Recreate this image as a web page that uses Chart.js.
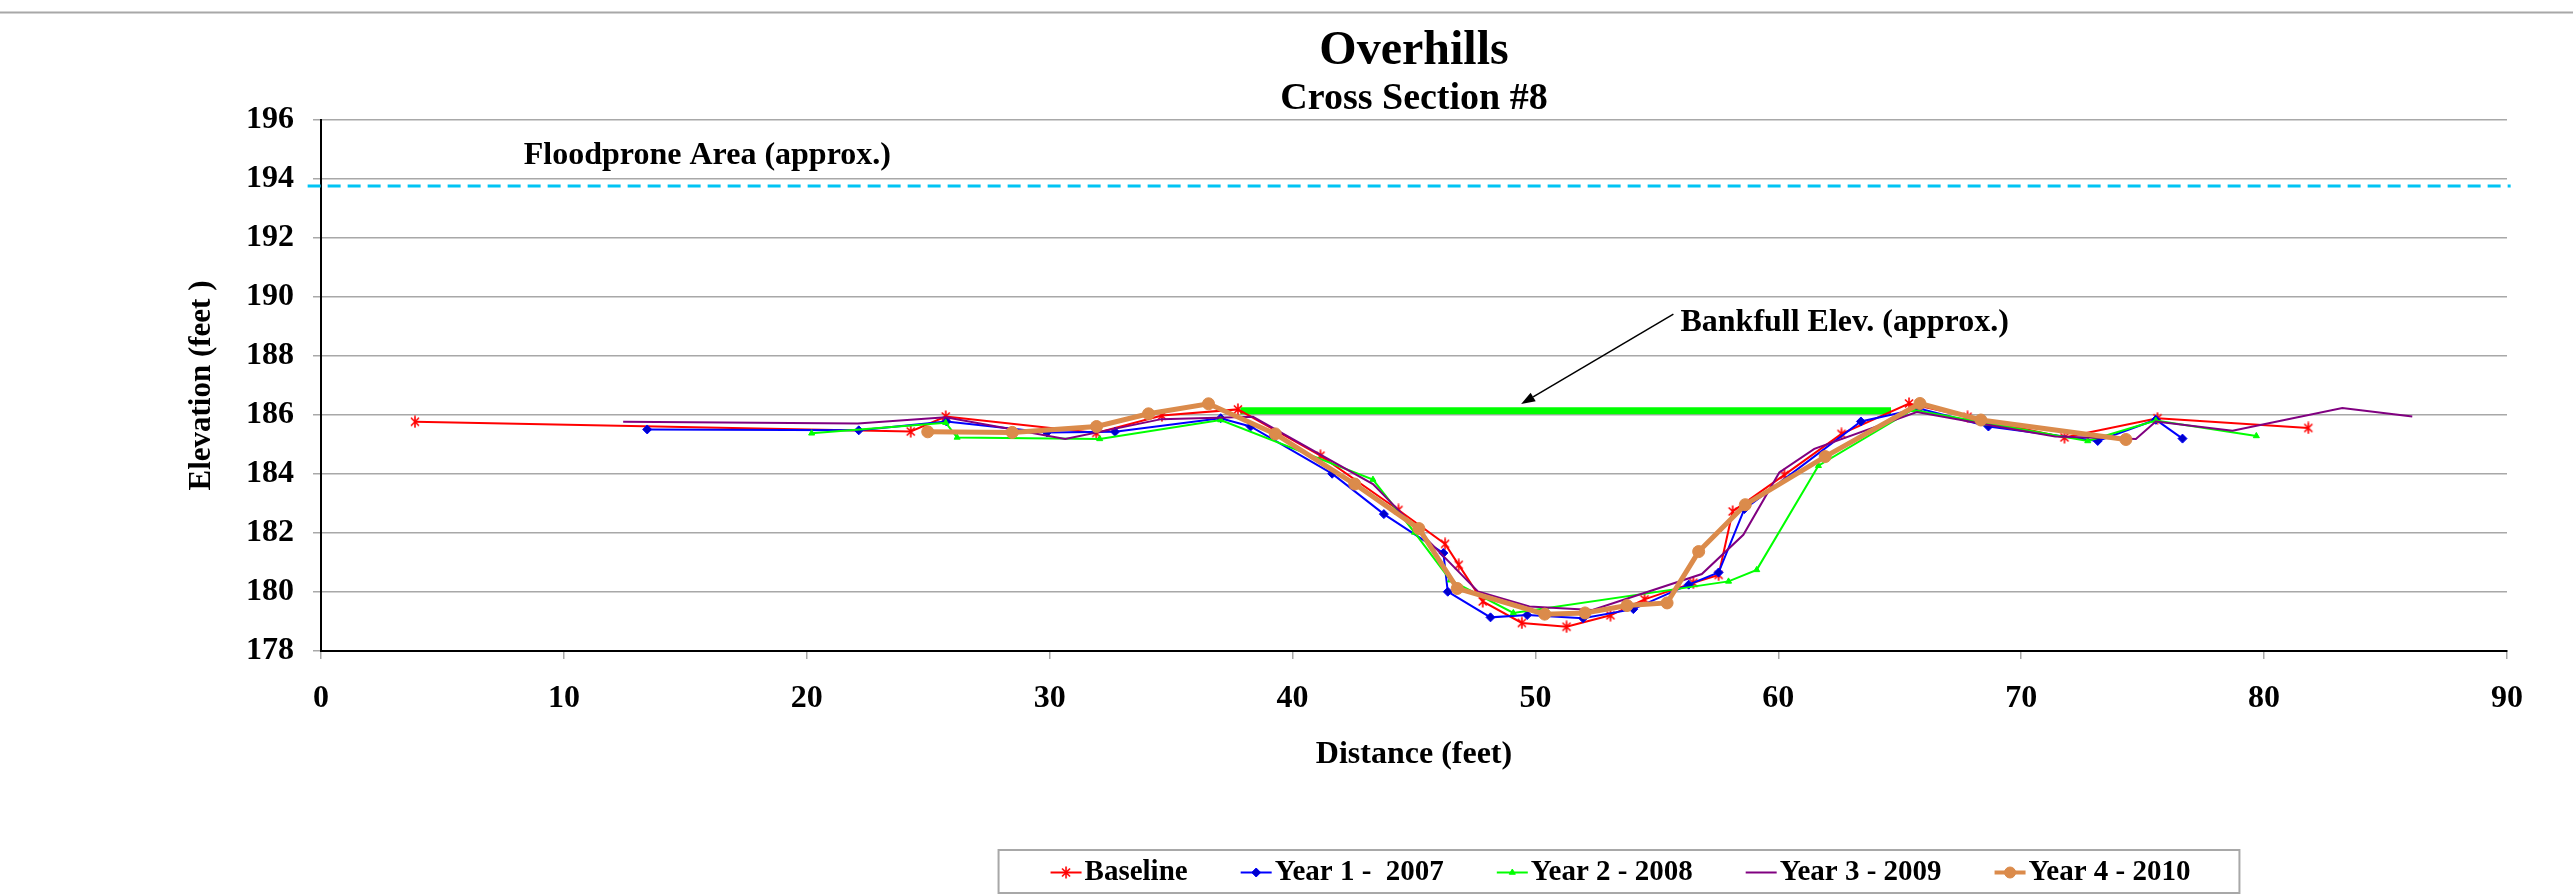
<!DOCTYPE html>
<html>
<head>
<meta charset="utf-8">
<title>Overhills Cross Section #8</title>
<script src="https://cdn.jsdelivr.net/npm/chart.js@4"></script>
<style>
  html, body { margin: 0; padding: 0; background: #ffffff; }
  canvas { display: block; }
</style>
</head>
<body>
<canvas id="xs" width="2573" height="896"></canvas>
<script>
// Survey stations (ft) and surveyed elevations (ft) for each year
const baselineX = [3.87, 24.28, 25.72, 31.92, 34.62, 37.75, 41.15, 44.36, 46.28, 46.84, 47.83, 49.44, 51.28, 53.09, 54.49, 56.5, 57.54, 58.12, 60.25, 62.6, 65.38, 67.79, 71.78, 75.61, 81.82];
const baselineY = [185.77, 185.44, 185.95, 185.39, 185.98, 186.19, 184.62, 182.78, 181.63, 180.92, 179.68, 178.95, 178.82, 179.21, 179.75, 180.31, 180.58, 182.73, 183.97, 185.36, 186.39, 185.94, 185.24, 185.89, 185.56];

const year1X = [13.43, 22.14, 25.75, 29.89, 32.69, 37.04, 38.27, 41.63, 43.76, 46.21, 46.39, 48.15, 49.66, 51.96, 54.03, 56.31, 57.54, 58.6, 63.4, 65.8, 68.65, 73.15, 75.54, 76.64];
const year1Y = [185.51, 185.48, 185.78, 185.41, 185.43, 185.89, 185.61, 184.01, 182.64, 181.32, 180.01, 179.14, 179.22, 179.11, 179.42, 180.25, 180.66, 182.81, 185.78, 186.22, 185.61, 185.12, 185.84, 185.2];

const year2X = [20.2, 25.72, 26.19, 32.06, 37.04, 43.31, 45.02, 46.5, 49.09, 57.95, 59.11, 61.65, 65.53, 68.6, 72.74, 75.54, 79.68];
const year2Y = [185.38, 185.74, 185.24, 185.19, 185.83, 183.81, 182.02, 180.4, 179.29, 180.36, 180.75, 184.28, 186.18, 185.72, 185.12, 185.81, 185.29];

const year3X = [12.44, 22.1, 25.72, 30.64, 34.6, 38.37, 43.31, 47.63, 49.75, 52.35, 56.85, 58.56, 60.04, 61.48, 65.7, 68.5, 71.4, 74.72, 75.54, 78.7, 83.22, 86.1];
const year3Y = [185.77, 185.71, 185.92, 185.19, 185.86, 185.94, 183.66, 180.02, 179.51, 179.39, 180.61, 181.94, 184.05, 184.85, 186.1, 185.69, 185.27, 185.19, 185.78, 185.47, 186.24, 185.95];

const year4X = [24.98, 28.46, 31.93, 34.07, 36.54, 39.29, 42.56, 45.2, 46.78, 50.38, 52.04, 53.77, 55.42, 56.72, 58.64, 61.93, 65.83, 68.34, 74.31];
const year4Y = [185.43, 185.41, 185.61, 186.04, 186.38, 185.36, 183.66, 182.15, 180.12, 179.25, 179.29, 179.54, 179.63, 181.37, 182.96, 184.59, 186.39, 185.83, 185.17];

// Reference elevations
const bankfullX = [37.85, 64.64];
const bankfullY = [186.14, 186.14];
const floodproneX = [-0.55, 90.15];
const floodproneY = [193.76, 193.76];

// Series names and axis ticks
const seriesNames = ['Baseline', 'Year 1 -  2007', 'Year 2 - 2008', 'Year 3 - 2009', 'Year 4 - 2010'];
const xTicks = [0, 10, 20, 30, 40, 50, 60, 70, 80, 90];
const yTicks = [178, 180, 182, 184, 186, 188, 190, 192, 194, 196];

const FONT = "'Liberation Serif', 'Times New Roman', Times, serif";
const zip = (xs, ys) => xs.map((x, i) => ({ x: x, y: ys[i] }));

// Asterisk marker: an X crossed by a vertical stroke
function makeStarMarker(color) {
  const c = document.createElement('canvas');
  c.width = 12; c.height = 13;
  const g = c.getContext('2d');
  g.strokeStyle = color;
  g.lineWidth = 1.6;
  g.beginPath();
  g.moveTo(2, 2.5); g.lineTo(10, 10.5);
  g.moveTo(10, 2.5); g.lineTo(2, 10.5);
  g.moveTo(6, 0.5); g.lineTo(6, 12.5);
  g.stroke();
  return c;
}
const starMarker = makeStarMarker('#ff0000');

const series = [
  { label: seriesNames[0], data: zip(baselineX, baselineY), borderColor: '#ff0000', backgroundColor: '#ff0000',
    borderWidth: 2, pointStyle: starMarker, pointRadius: 6, pointBorderWidth: 1.6, order: 5, inLegend: true },
  { label: seriesNames[1], data: zip(year1X, year1Y), borderColor: '#0000ff', backgroundColor: '#0000cc',
    borderWidth: 2, pointStyle: 'rectRot', pointRadius: 4.5, pointBorderWidth: 1, order: 4, inLegend: true },
  { label: seriesNames[2], data: zip(year2X, year2Y), borderColor: '#00ff00', backgroundColor: '#00ff00',
    borderWidth: 2, pointStyle: 'triangle', pointRadius: 3.5, pointBorderWidth: 1, order: 3, inLegend: true },
  { label: seriesNames[3], data: zip(year3X, year3Y), borderColor: '#800080', backgroundColor: '#800080',
    borderWidth: 2, pointRadius: 0, order: 2, inLegend: true },
  { label: seriesNames[4], data: zip(year4X, year4Y), borderColor: '#db8b4b', backgroundColor: '#db8b4b',
    borderWidth: 5, pointStyle: 'circle', pointRadius: 6, pointBorderWidth: 1, order: 1, inLegend: true },
  { label: 'Bankfull', data: zip(bankfullX, bankfullY), borderColor: '#00ff00', borderWidth: 7,
    pointRadius: 0, order: 6, borderCapStyle: 'butt' },
  { label: 'Floodprone', data: zip(floodproneX, floodproneY), borderColor: '#00c4f4', borderWidth: 3,
    borderDash: [13, 7], pointRadius: 0, order: 7, clip: false }
];

// Outer frame line across the top of the chart object
const frameLine = {
  id: 'frameLine',
  beforeDraw(chart) {
    const ctx = chart.ctx;
    ctx.save();
    ctx.fillStyle = '#ffffff';
    ctx.fillRect(0, 0, chart.width, chart.height);
    ctx.strokeStyle = '#a8a8a8';
    ctx.lineWidth = 2;
    ctx.beginPath();
    ctx.moveTo(0, 12.5);
    ctx.lineTo(chart.width, 12.5);
    ctx.stroke();
    ctx.restore();
  }
};

// Text callouts for the floodprone and bankfull elevations
const callouts = {
  id: 'callouts',
  afterDatasetsDraw(chart) {
    const ctx = chart.ctx;
    const xs = chart.scales.x, ys = chart.scales.y;
    ctx.save();
    ctx.fillStyle = '#000000';
    ctx.font = 'bold 32px ' + FONT;
    ctx.textBaseline = 'alphabetic';
    ctx.textAlign = 'left';
    ctx.fillText('Floodprone Area (approx.)', xs.getPixelForValue(8.35), ys.getPixelForValue(194.51));
    ctx.fillText('Bankfull Elev. (approx.)', xs.getPixelForValue(55.97), ys.getPixelForValue(188.86));

    // arrow pointing at the bankfull line
    const x0 = xs.getPixelForValue(55.68), y0 = ys.getPixelForValue(189.42);
    const x1 = xs.getPixelForValue(49.41), y1 = ys.getPixelForValue(186.37);
    const ang = Math.atan2(y1 - y0, x1 - x0);
    const headLen = 14, headHalf = 5;
    const bx = x1 - headLen * Math.cos(ang), by = y1 - headLen * Math.sin(ang);
    ctx.strokeStyle = '#000000';
    ctx.lineWidth = 1.5;
    ctx.beginPath();
    ctx.moveTo(x0, y0);
    ctx.lineTo(bx, by);
    ctx.stroke();
    ctx.beginPath();
    ctx.moveTo(x1, y1);
    ctx.lineTo(bx + headHalf * Math.sin(ang), by - headHalf * Math.cos(ang));
    ctx.lineTo(bx - headHalf * Math.sin(ang), by + headHalf * Math.cos(ang));
    ctx.closePath();
    ctx.fill();
    ctx.restore();
  }
};

// Boxed legend below the axis title
const LEGEND_CENTER_X = 1619;
const boxedLegend = {
  id: 'boxedLegend',
  afterDraw(chart) {
    const ctx = chart.ctx;
    const items = chart.data.datasets.filter(d => d.inLegend);
    const sample = 31, gapText = 3, gapItem = 53, padL = 52, padR = 49;
    ctx.save();
    ctx.font = 'bold 29px ' + FONT;
    const widths = items.map(d => ctx.measureText(d.label).width);
    let total = padL + padR + gapItem * (items.length - 1);
    widths.forEach(w => { total += sample + gapText + w; });
    const left = LEGEND_CENTER_X - total / 2;
    const top = chart.height - 46, h = 43;
    ctx.strokeStyle = '#a8a8a8';
    ctx.lineWidth = 2;
    ctx.strokeRect(left, top, total, h);
    const cy = top + h / 2 + 1;
    let x = left + padL;
    items.forEach((d, i) => {
      ctx.strokeStyle = d.borderColor;
      ctx.lineWidth = Math.min(d.borderWidth, 4);
      ctx.beginPath();
      ctx.moveTo(x, cy);
      ctx.lineTo(x + sample, cy);
      ctx.stroke();
      if (d.pointRadius > 0) {
        ctx.fillStyle = d.backgroundColor;
        ctx.strokeStyle = d.borderColor;
        ctx.lineWidth = d.pointBorderWidth;
        Chart.helpers.drawPoint(ctx, {
          pointStyle: d.pointStyle, radius: Math.min(d.pointRadius, 5.5),
          rotation: 0, borderWidth: d.pointBorderWidth
        }, x + sample / 2, cy);
      }
      ctx.fillStyle = '#000000';
      ctx.textAlign = 'left';
      ctx.textBaseline = 'middle';
      ctx.fillText(d.label, x + sample + gapText, cy);
      x += sample + gapText + widths[i] + gapItem;
    });
    ctx.restore();
  }
};

new Chart(document.getElementById('xs'), {
  type: 'line',
  data: { datasets: series },
  plugins: [frameLine, callouts, boxedLegend],
  options: {
    responsive: false,
    animation: false,
    devicePixelRatio: 1,
    layout: { padding: { left: 170, right: 66, top: 0, bottom: 115 } },
    elements: { line: { tension: 0 } },
    plugins: {
      legend: { display: false },
      tooltip: { enabled: false },
      title: {
        display: true, text: 'Overhills', fullSize: false, color: '#000000',
        font: { family: FONT, size: 48, weight: 'bold', lineHeight: 1.0 },
        padding: { top: 28, bottom: 0 }
      },
      subtitle: {
        display: true, text: 'Cross Section #8', fullSize: false, color: '#000000',
        font: { family: FONT, size: 38, weight: 'bold', lineHeight: 1.0 },
        padding: { top: 4, bottom: 2 }
      }
    },
    scales: {
      x: {
        type: 'linear', min: xTicks[0], max: xTicks[xTicks.length - 1],
        afterBuildTicks(scale) { scale.ticks = xTicks.map(v => ({ value: v })); },
        afterFit(scale) { scale.height = 130; },
        grid: { drawOnChartArea: false, drawTicks: true, tickLength: 8, color: '#a8a8a8', lineWidth: 1.5 },
        border: { display: true, color: '#000000', width: 2 },
        ticks: { color: '#000000', padding: 21, maxRotation: 0, font: { family: FONT, size: 32, weight: 'bold' } },
        title: {
          display: true, text: 'Distance (feet)', color: '#000000',
          font: { family: FONT, size: 32, weight: 'bold' }, padding: { top: 0, bottom: 7 }
        }
      },
      y: {
        type: 'linear', min: yTicks[0], max: yTicks[yTicks.length - 1],
        afterBuildTicks(scale) { scale.ticks = yTicks.map(v => ({ value: v })); },
        afterFit(scale) { scale.width = 151; },
        grid: { drawOnChartArea: true, drawTicks: true, tickLength: 8, color: '#a8a8a8', lineWidth: 1.5 },
        border: { display: true, color: '#000000', width: 2 },
        ticks: { color: '#000000', padding: 19, font: { family: FONT, size: 32, weight: 'bold' } },
        title: {
          display: true, text: 'Elevation (feet )', color: '#000000',
          font: { family: FONT, size: 31, weight: 'bold' }, padding: { top: 13, bottom: 0 }
        }
      }
    }
  }
});
</script>
</body>
</html>
